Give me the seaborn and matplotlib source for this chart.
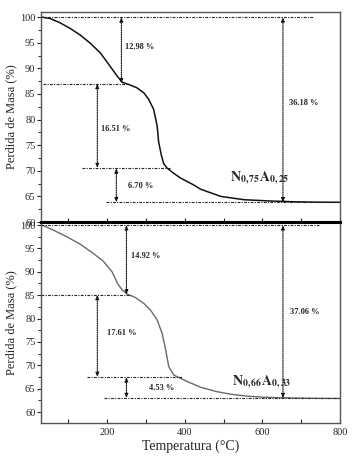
import numpy as np
import pandas as pd
import matplotlib
matplotlib.use("Agg")
import matplotlib.pyplot as plt
import seaborn as sns
from matplotlib.ticker import MultipleLocator

# Data
temp_a = [32, 53, 79, 105, 131, 157, 183, 208, 226, 239, 256, 277, 295, 307, 320, 329, 333,
          340, 346, 355, 372, 389, 424, 441, 493, 553, 622, 682, 740, 800]
mass_a = [100.0, 99.75, 98.9, 97.8, 96.5, 94.9, 93.0, 90.4, 88.5, 87.3, 86.85, 86.2, 85.2, 84.0,
          82.0, 78.8, 75.6, 73.0, 71.4, 70.5, 69.5, 68.6, 67.2, 66.4, 65.0, 64.35, 64.1, 63.95,
          63.88, 63.85]
temp_b = [32, 62, 96, 131, 165, 191, 213, 227, 239, 252, 273, 295, 312, 329, 342, 351, 359,
          372, 407, 441, 480, 519, 560, 604, 680, 740, 800]
mass_b = [100.0, 98.9, 97.5, 95.9, 93.9, 92.2, 90.0, 87.5, 86.1, 85.2, 84.5, 83.2, 81.8, 79.7,
          76.8, 73.3, 69.7, 67.9, 66.5, 65.3, 64.4, 63.8, 63.4, 63.15, 63.0, 62.92, 62.9]

steps_a = [12.98, 16.51, 6.70]
total_a = 36.18
steps_b = [14.92, 17.61, 4.53]
total_b = 37.06
label_a = r"$\mathbf{N}_{\mathbf{0,75}}\mathbf{A}_{\mathbf{0,25}}$"
label_b = r"$\mathbf{N}_{\mathbf{0,66}}\mathbf{A}_{\mathbf{0,33}}$"
xlabel = "Temperatura (°C)"
ylabel = "Perdida de Masa (%)"

sns.set_style("ticks")
plt.rcParams["font.family"] = ["Liberation Serif", "DejaVu Serif"]
plt.rcParams["mathtext.fontset"] = "stix"

fig = plt.figure(figsize=(3.59, 4.57), dpi=100)
ax1 = fig.add_axes([0.1142, 0.5142, 0.833, 0.4595])
ax2 = fig.add_axes([0.1142, 0.0744, 0.833, 0.4398])

dfa = pd.DataFrame({"T": temp_a, "M": mass_a})
dfb = pd.DataFrame({"T": temp_b, "M": mass_b})
sns.lineplot(data=dfa, x="T", y="M", ax=ax1, color="#111111", lw=1.1)
sns.lineplot(data=dfb, x="T", y="M", ax=ax2, color="#6a6a6a", lw=1.0)

ax1.set_ylim(60.0, 101)
ax2.set_ylim(57.65, 100.64)

def levels(steps):
    lv = [100.0]
    for s in steps:
        lv.append(round(lv[-1] - s, 2))
    return lv

hls = dict(color="#222222", lw=0.8, ls=(0, (2.5, 1.2, 1, 1.2)))
arr = dict(arrowstyle="<|-|>,head_length=0.25,head_width=0.1", color="#111111",
           lw=0.8, ls=(0, (1, 1)), shrinkA=0, shrinkB=0)
tfs = dict(fontsize=6, fontweight="bold", va="center", ha="left")

def decorate(ax, steps, total, cfg, name, name_pos):
    lv = levels(steps)
    for (x0, x1), y in zip(cfg["h"], lv):
        ax.plot([x0, x1], [y, y], **hls)
    for i, s in enumerate(steps):
        xv = cfg["v"][i]
        ax.annotate("", xy=(xv, lv[i + 1]), xytext=(xv, lv[i]), arrowprops=arr)
        tx, ty = cfg["t"][i]
        ax.text(tx, ty, f"{s:.2f} %", **tfs)
    xv = cfg["vt"]
    ax.annotate("", xy=(xv, lv[-1]), xytext=(xv, 100.0), arrowprops=arr)
    ax.text(cfg["tt"][0], cfg["tt"][1], f"{total:.2f} %", **tfs)
    ax.text(name_pos[0], name_pos[1], name, fontsize=10, va="center", ha="left")

cfg_a = {"h": [(30, 731), (35, 255), (136, 364), (198, 800)],
         "v": [237, 175, 224], "t": [(247, 94.1), (184, 78.1), (255, 67.1)],
         "vt": 653, "tt": (669, 83.2)}
cfg_b = {"h": [(30, 746), (30, 262), (149, 392), (193, 800)],
         "v": [250, 175, 250], "t": [(263, 93.4), (200, 76.9), (307, 65.1)],
         "vt": 653, "tt": (671, 81.4)}
decorate(ax1, steps_a, total_a, cfg_a, label_a, (517, 68.6))
decorate(ax2, steps_b, total_b, cfg_b, label_b, (521, 66.3))

for ax in (ax1, ax2):
    ax.set_xlim(30, 800)
    ax.xaxis.set_major_locator(MultipleLocator(200))
    ax.xaxis.set_minor_locator(MultipleLocator(100))
    ax.yaxis.set_major_locator(MultipleLocator(5))
    ax.yaxis.set_minor_locator(MultipleLocator(2.5))
    ax.tick_params(axis="x", which="both", direction="in", length=3, width=0.8, labelsize=7.5)
    ax.tick_params(axis="y", which="major", direction="out", length=3, width=0.8, labelsize=7.5, pad=1)
    ax.tick_params(axis="y", which="minor", direction="out", length=2, width=0.7)
    for sp in ax.spines.values():
        sp.set_visible(True)
        sp.set_color("#555555")
        sp.set_linewidth(1.0)
    ax.set_ylabel(ylabel, fontsize=9, labelpad=2)
    ax.set_xlabel("")

ax1.tick_params(axis="x", labelbottom=False)
ax1.spines["bottom"].set_color("#000000")
ax1.spines["bottom"].set_linewidth(2.2)
ax2.spines["top"].set_color("#000000")
ax2.spines["top"].set_linewidth(2.2)
ax2.set_xlabel(xlabel, fontsize=10, labelpad=2)

fig.savefig("out.png", dpi=100)
